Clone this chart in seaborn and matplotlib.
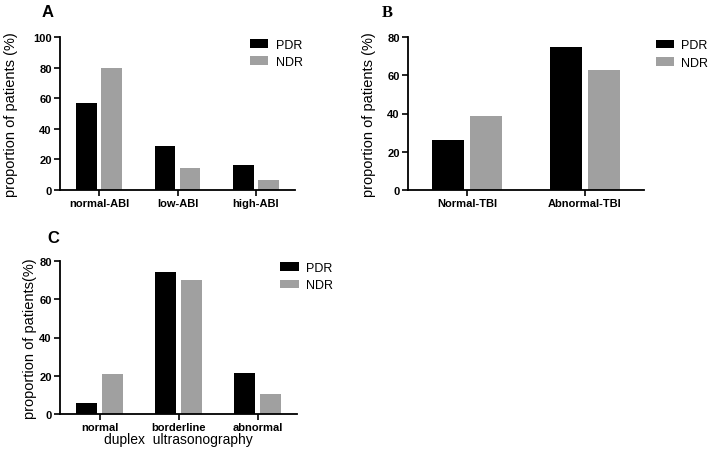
import pandas as pd
import numpy as np
import matplotlib.pyplot as plt
import seaborn as sns

sns.set_theme(style="ticks")
plt.rcParams['font.family'] = ['Liberation Sans', 'DejaVu Sans']
plt.rcParams['text.color'] = 'black'
plt.rcParams['axes.labelcolor'] = 'black'
plt.rcParams['xtick.color'] = 'black'
plt.rcParams['ytick.color'] = 'black'

groups = ['PDR', 'NDR']
colors = {'PDR': '#000000', 'NDR': '#a0a0a0'}

# panel A - ABI
abi_cats = ['normal-ABI', 'low-ABI', 'high-ABI']
abi_pdr = [56.7, 28.8, 16.1]
abi_ndr = [80.0, 14.6, 6.5]

# panel B - TBI
tbi_cats = ['Normal-TBI', 'Abnormal-TBI']
tbi_pdr = [26.3, 74.8]
tbi_ndr = [38.5, 62.7]

# panel C - duplex ultrasonography
dup_cats = ['normal', 'borderline', 'abnormal']
dup_pdr = [5.7, 74.4, 21.6]
dup_ndr = [20.9, 70.3, 10.3]


def make_df(cats, pdr, ndr):
    return pd.DataFrame({
        'cat': cats * 2,
        'group': ['PDR'] * len(cats) + ['NDR'] * len(cats),
        'val': pdr + ndr,
    })


W, H = 710, 452
fig = plt.figure(figsize=(W / 100, H / 100), dpi=100)


def px_axes(x0, x1, y0, y1):
    return fig.add_axes([x0 / W, 1 - y1 / H, (x1 - x0) / W, (y1 - y0) / H])


def draw(ax, df, cats, ymax, ylabel, labelpad, leg_xy, xlabel=''):
    sns.barplot(ax=ax, data=df, x='cat', y='val', hue='group', order=cats,
                hue_order=groups, palette=colors, width=0.64, gap=0.17,
                linewidth=0, saturation=1)
    ax.set_xlim(-0.5, len(cats) - 0.5)
    ax.set_ylim(0, ymax)
    ax.set_yticks(np.arange(0, ymax + 1, 20))
    for lab in ax.get_xticklabels() + ax.get_yticklabels():
        lab.set_fontweight('bold')
        lab.set_fontsize(8)
    ax.set_ylabel(ylabel, fontsize=10.5, labelpad=labelpad)
    ax.set_xlabel(xlabel, fontsize=10, labelpad=0)
    sns.despine(ax=ax)
    for s in ['left', 'bottom']:
        ax.spines[s].set_linewidth(1.3)
        ax.spines[s].set_color('black')
    ax.tick_params(direction='out', length=4, width=1.2, colors='black', pad=2)
    ax.legend(loc='upper left', bbox_to_anchor=leg_xy, frameon=False,
              fontsize=9, handlelength=1.45, handleheight=0.7,
              handletextpad=0.6, labelspacing=0.45, borderpad=0,
              borderaxespad=0)


axA = px_axes(60, 295, 38, 191)
draw(axA, make_df(abi_cats, abi_pdr, abi_ndr), abi_cats, 100,
     'proportion of patients (%)', 11, (0.81, 0.99))

axB = px_axes(408, 644, 38, 191)
draw(axB, make_df(tbi_cats, tbi_pdr, tbi_ndr), tbi_cats, 80,
     'proportion of patients (%)', 8, (1.05, 0.985))

axC = px_axes(60, 297, 262, 415)
draw(axC, make_df(dup_cats, dup_pdr, dup_ndr), dup_cats, 80,
     'proportion of patients(%)', 1.5, (0.93, 0.995),
     xlabel='duplex  ultrasonography')

fig.text(42 / W, 1 - 17 / H, 'A', fontsize=12, fontweight='bold')
fig.text(382 / W, 1 - 17 / H, 'B', fontsize=12, fontweight='bold',
         family='Liberation Serif')
fig.text(47 / W, 1 - 243 / H, 'C', fontsize=12, fontweight='bold')

fig.savefig('out.png', dpi=100)
